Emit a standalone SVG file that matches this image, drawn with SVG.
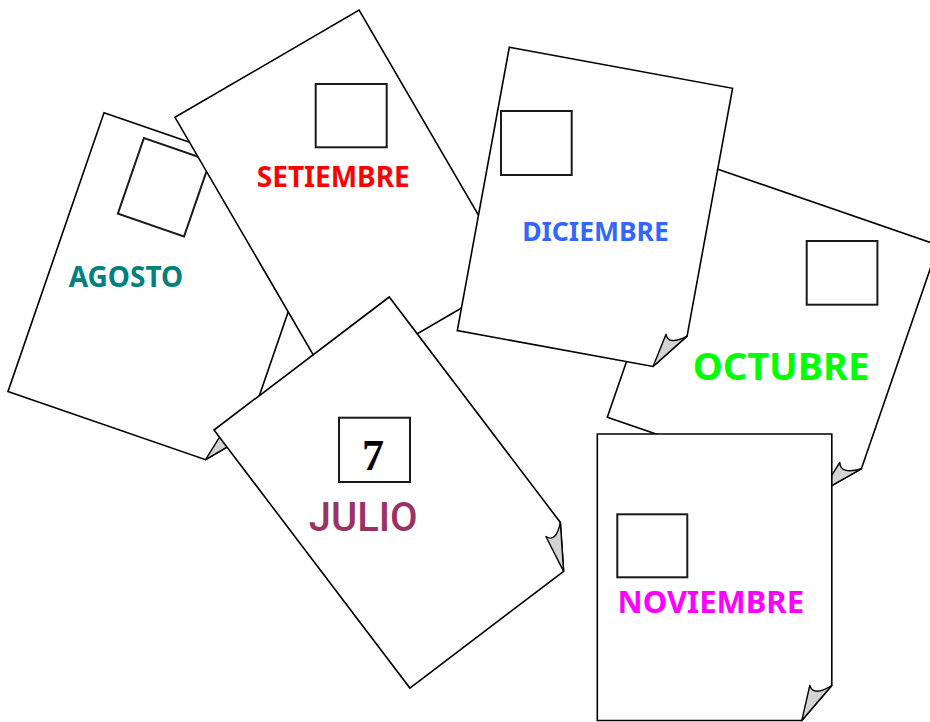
<svg xmlns="http://www.w3.org/2000/svg" width="930" height="722" viewBox="0 0 930 722">
<style>
.page{fill:#fff;stroke:#000;stroke-width:1.6;stroke-linejoin:miter}
.curl{fill:#d3d3d3;stroke:#000;stroke-width:1.4;stroke-linejoin:round}
.box{fill:#fff;stroke:#1a1a1a;stroke-width:2}
.lbl{font-family:"Noto Sans","DejaVu Sans",sans-serif;font-weight:bold;text-anchor:middle}
</style>
<rect width="930" height="722" fill="#fff"/>
<g id="agosto">
  <g transform="translate(104,112.7) rotate(19)">
    <path class="page" d="M0,0H239V260L209,295H0Z"/>
    <path class="curl" d="M209,295L217,260Q221,272 239,260Z"/>
    <rect class="box" x="46" y="11" width="70" height="80"/>
  </g>
  <text class="lbl" x="126" y="287" font-size="28" fill="#008080">AGOSTO</text>
</g>
<g id="setiembre">
  <g transform="translate(175,117.3) rotate(-30.2)">
    <path class="page" d="M0,0H213V274L183,309H0Z"/>
    <path class="curl" d="M183,309L191,274Q195,286 213,274Z"/>
  </g>
  <rect class="box" x="315.7" y="84" width="71" height="63.3"/>
  <text class="lbl" x="333.3" y="186.5" font-size="28" fill="#ff0000">SETIEMBRE</text>
</g>
<g id="octubre">
  <g transform="translate(695.4,161.5) rotate(19)">
    <path class="page" d="M0,0H257V236.5L227,270.5H0Z"/>
    <path class="curl" d="M227,270.5L234.5,237.5Q239,249 257,236.5Z"/>
  </g>
  <rect class="box" x="806.7" y="241" width="70.7" height="63.7"/>
  <text class="lbl" x="781" y="380" font-size="38" fill="#00ff00">OCTUBRE</text>
</g>
<g id="diciembre">
  <g transform="translate(509.3,47.3) rotate(10.4)">
    <path class="page" d="M0,0H227V252L199,288H0Z"/>
    <path class="curl" d="M199,288L206,254Q210,265 227,252Z"/>
  </g>
  <rect class="box" x="501" y="111" width="70.7" height="64"/>
  <text class="lbl" x="595.5" y="241" font-size="26.5" fill="#3366ff">DICIEMBRE</text>
</g>
<g id="julio">
  <g transform="translate(214,430) rotate(-37.2)">
    <path class="page" d="M0,0H220V283L193,324H0Z"/>
    <path class="curl" d="M193,324L200,285.5Q204,297 220,283Z"/>
  </g>
  <rect class="box" x="339" y="417.7" width="71" height="64.3"/>
  <text x="373" y="470" font-family="'Liberation Serif','Times New Roman',serif" font-weight="bold" font-size="44" text-anchor="middle" fill="#000">7</text>
  <text x="363.2" y="531" font-family="Roboto,'Liberation Sans',sans-serif" font-weight="500" font-size="40" text-anchor="middle" fill="#993366">JULIO</text>
</g>
<g id="noviembre">
  <g transform="translate(597.3,434)">
    <path class="page" d="M0,0H234.5V251.5L204.5,286.5H0Z"/>
    <path class="curl" d="M204.5,286.5L212.5,251.5Q216,263 234.5,251.5Z"/>
  </g>
  <rect class="box" x="617.3" y="514.3" width="70" height="63"/>
  <text class="lbl" x="710.8" y="613.3" font-size="31" fill="#ff00ff">NOVIEMBRE</text>
</g>
<g id="connectors"/>
</svg>
